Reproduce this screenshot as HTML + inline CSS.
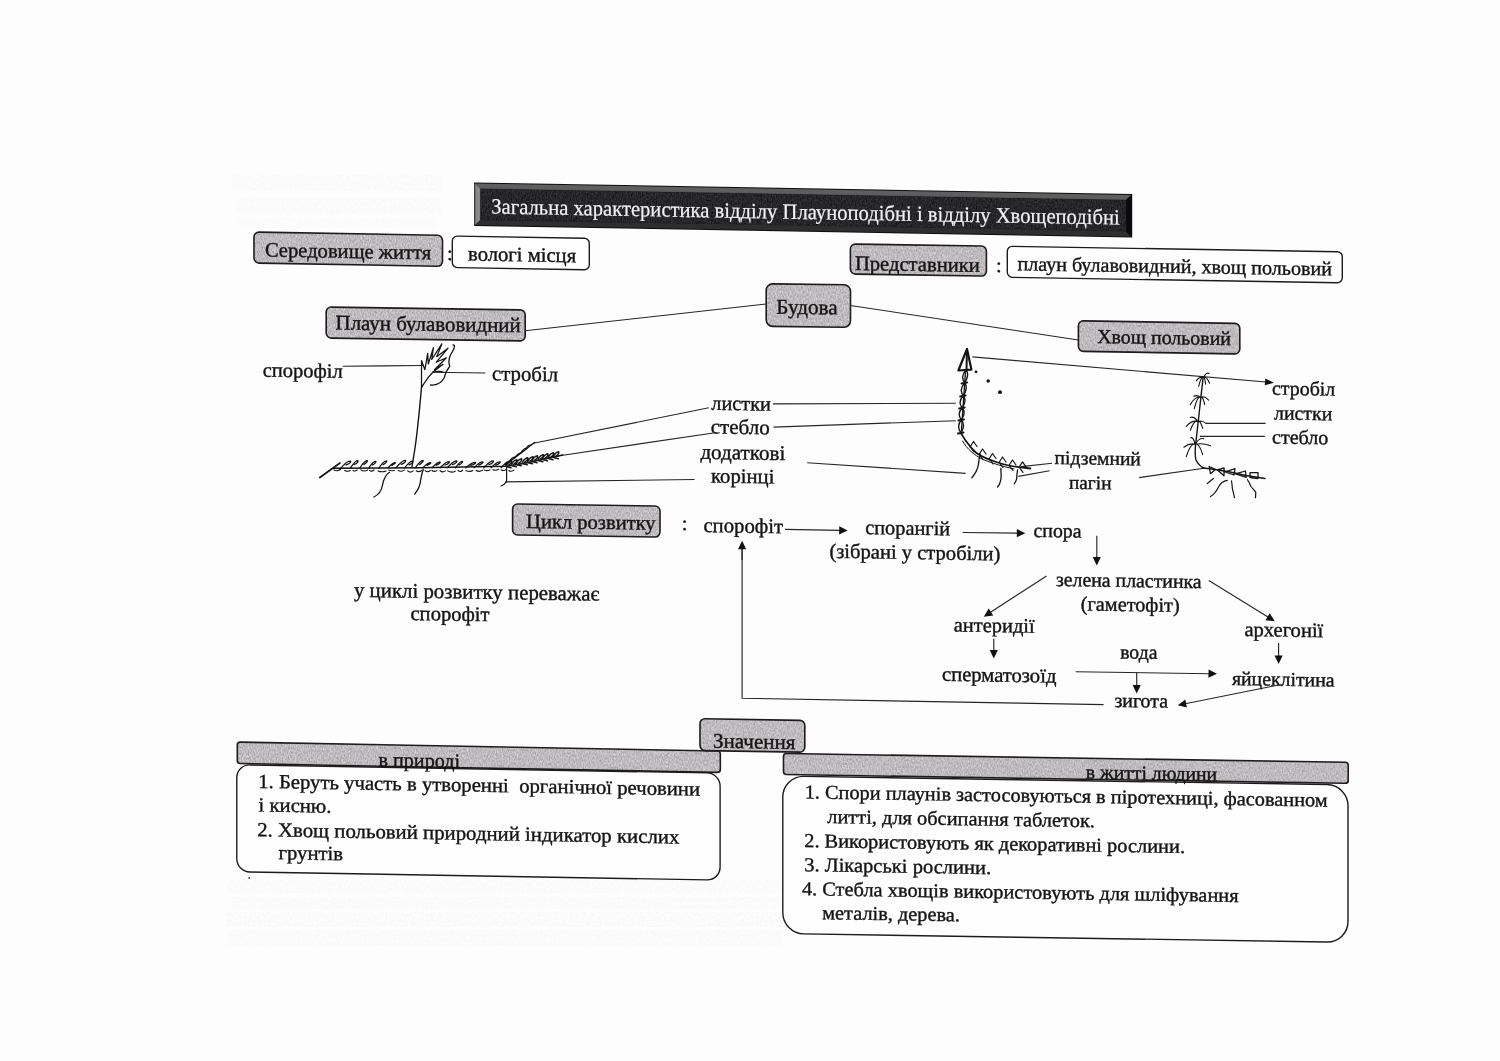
<!DOCTYPE html>
<html><head><meta charset="utf-8">
<style>
html,body{margin:0;padding:0;background:#fdfdfd;width:1500px;height:1061px;overflow:hidden}
svg{display:block;position:absolute;left:0;top:0;will-change:transform}
text{font-family:"Liberation Serif",serif;font-size:20.5px;fill:#141414;stroke:#141414;stroke-width:0.4px}
.w{fill:#f2f2f2;stroke:#f2f2f2;stroke-width:0.2px}
.gf{fill:#b3b1b4}
.gs{fill:none;stroke:#1c1c1c;stroke-width:1.6}
.wb{fill:#fefefe;stroke:#1c1c1c;stroke-width:1.4}
.ln{stroke:#262626;stroke-width:1.15;fill:none}
.dr{stroke:#141414;stroke-width:1.5;fill:none;stroke-linecap:round;stroke-linejoin:round}
.ah{fill:#111}
</style></head>
<body>
<svg width="1500" height="1061" viewBox="0 0 1500 1061">
<defs>
<filter id="tex" x="0" y="0" width="100%" height="100%" color-interpolation-filters="sRGB">
<feTurbulence type="fractalNoise" baseFrequency="0.85 0.45" numOctaves="2" seed="7" result="n"/>
<feColorMatrix in="n" type="matrix" values="0.42 0 0 0 0.54  0.42 0 0 0 0.52  0.42 0 0 0 0.532  0 0 0 0 1" result="g"/>
<feComposite in="g" in2="SourceGraphic" operator="in"/>
</filter>
<filter id="dtex" x="0" y="0" width="100%" height="100%" color-interpolation-filters="sRGB">
<feTurbulence type="fractalNoise" baseFrequency="0.8 0.5" numOctaves="2" seed="3" result="n"/>
<feColorMatrix in="n" type="matrix" values="0.3 0 0 0 0.0  0.3 0 0 0 0.0  0.3 0 0 0 0.015  0 0 0 0 1" result="g"/>
<feComposite in="g" in2="SourceGraphic" operator="in"/>
</filter>
<filter id="gh" x="0" y="0" width="100%" height="100%" color-interpolation-filters="sRGB">
<feTurbulence type="fractalNoise" baseFrequency="0.5 0.35" numOctaves="2" seed="11" result="n"/>
<feColorMatrix in="n" type="matrix" values="0 0 0 0 0  0 0 0 0 0  0 0 0 0 0  0 0 0 -2.2 1.6" result="a"/>
<feComposite in="SourceGraphic" in2="a" operator="in"/>
</filter>
</defs>
<rect x="228" y="880" width="560" height="13" fill="#000" opacity="0.016" filter="url(#gh)"/>
<rect x="232" y="897" width="555" height="12" fill="#000" opacity="0.014" filter="url(#gh)"/>
<rect x="226" y="912" width="560" height="15" fill="#000" opacity="0.018" filter="url(#gh)"/>
<rect x="228" y="930" width="555" height="16" fill="#000" opacity="0.016" filter="url(#gh)"/>
<rect x="232" y="175" width="210" height="16" fill="#000" opacity="0.014" filter="url(#gh)"/>
<rect x="236" y="198" width="205" height="16" fill="#000" opacity="0.014" filter="url(#gh)"/>
<rect x="238" y="218" width="200" height="10" fill="#000" opacity="0.01" filter="url(#gh)"/>
<g transform="translate(474.2 182.5) skewY(1.0) translate(-474.2 -182.5)">
<rect x="474.2" y="182.5" width="658" height="43.5" fill="#0e0e0e"/>
<polygon points="475.2,183.5 1131.2,183.5 1126.0,188.7 480.4,188.7" fill="#5e5e5e"/>
<polygon points="475.2,183.5 480.4,188.7 480.4,219.8 475.2,225.0" fill="#888"/>
<polygon points="475.2,225.0 480.4,219.8 1126.0,219.8 1131.2,225.0" fill="#2e2e2e"/>
<polygon points="1131.2,183.5 1126.0,188.7 1126.0,219.8 1131.2,225.0" fill="#0a0a0a"/>
<rect x="480.4" y="188.7" width="645.6" height="31.1" fill="#262629" filter="url(#dtex)"/>
</g>
<text x="491.2" y="213.6" transform="translate(491.2 213.6) skewY(1.0) scale(1 1.06) translate(-491.2 -213.6)" class="w" style="font-size:20.64px">Загальна характеристика відділу Плауноподібні і відділу Хвощеподібні</text>
<rect x="254" y="232" width="188.5" height="31" rx="5" class="gf" filter="url(#tex)" transform="translate(254 232) skewY(1.0) translate(-254 -232)"/>
<rect x="254" y="232" width="188.5" height="31" rx="5" class="gs" transform="translate(254 232) skewY(1.0) translate(-254 -232)"/>
<text x="264.9" y="256.5" transform="translate(264.9 256.5) skewY(1.0) scale(1 1.0) translate(-264.9 -256.5)" style="font-size:20.58px">Середовище життя</text>
<text x="446.9" y="260" transform="translate(446.9 260) skewY(0.92) scale(1 1.0) translate(-446.9 -260)" style="font-size:20.50px">:</text>
<rect x="452.3" y="236" width="137" height="31.5" rx="5" class="wb" transform="translate(452.3 236) skewY(0.95) translate(-452.3 -236)"/>
<text x="468.1" y="260.5" transform="translate(468.1 260.5) skewY(0.95) scale(1 1.0) translate(-468.1 -260.5)" style="font-size:20.64px">вологі місця</text>
<rect x="850.4" y="244" width="136" height="30" rx="5" class="gf" filter="url(#tex)" transform="translate(850.4 244) skewY(0.9) translate(-850.4 -244)"/>
<rect x="850.4" y="244" width="136" height="30" rx="5" class="gs" transform="translate(850.4 244) skewY(0.9) translate(-850.4 -244)"/>
<text x="854.9" y="270" transform="translate(854.9 270) skewY(0.9) scale(1 1.0) translate(-854.9 -270)" style="font-size:20.61px">Представники</text>
<text x="995.9" y="272" transform="translate(995.9 272) skewY(0.92) scale(1 1.0) translate(-995.9 -272)" style="font-size:20.50px">:</text>
<rect x="1007.3" y="246.3" width="335" height="31" rx="5" class="wb" transform="translate(1007.3 246.3) skewY(0.94) translate(-1007.3 -246.3)"/>
<text x="1017.5" y="270.3" transform="translate(1017.5 270.3) skewY(0.94) scale(1 1.0) translate(-1017.5 -270.3)" style="font-size:20.07px">плаун булавовидний, хвощ польовий</text>
<line x1="525" y1="330.8" x2="766" y2="304" class="ln"/>
<line x1="850.5" y1="305.5" x2="1078.4" y2="340" class="ln"/>
<rect x="326.2" y="307" width="199" height="31" rx="5" class="gf" filter="url(#tex)" transform="translate(326.2 307) skewY(0.86) translate(-326.2 -307)"/>
<rect x="326.2" y="307" width="199" height="31" rx="5" class="gs" transform="translate(326.2 307) skewY(0.86) translate(-326.2 -307)"/>
<text x="335.6" y="329.5" transform="translate(335.6 329.5) skewY(0.86) scale(1 1.0) translate(-335.6 -329.5)" style="font-size:20.92px">Плаун булавовидний</text>
<rect x="766.2" y="283.8" width="84.3" height="42.5" rx="6.5" class="gf" filter="url(#tex)" transform="translate(766.2 283.8) skewY(0.7) translate(-766.2 -283.8)"/>
<rect x="766.2" y="283.8" width="84.3" height="42.5" rx="6.5" class="gs" transform="translate(766.2 283.8) skewY(0.7) translate(-766.2 -283.8)"/>
<text x="776.3" y="313.7" transform="translate(776.3 313.7) skewY(0.7) scale(1 1.0) translate(-776.3 -313.7)" style="font-size:21.19px">Будова</text>
<rect x="1078.4" y="320.8" width="161.4" height="30.5" rx="5" class="gf" filter="url(#tex)" transform="translate(1078.4 320.8) skewY(0.95) translate(-1078.4 -320.8)"/>
<rect x="1078.4" y="320.8" width="161.4" height="30.5" rx="5" class="gs" transform="translate(1078.4 320.8) skewY(0.95) translate(-1078.4 -320.8)"/>
<text x="1097.2" y="343" transform="translate(1097.2 343) skewY(0.95) scale(1 1.0) translate(-1097.2 -343)" style="font-size:19.90px">Хвощ польовий</text>
<text x="262.7" y="376.7" transform="translate(262.7 376.7) skewY(0.92) scale(1 1.0) translate(-262.7 -376.7)" style="font-size:20.49px">спорофіл</text>
<text x="492.0" y="380.3" transform="translate(492.0 380.3) skewY(0.92) scale(1 1.0) translate(-492.0 -380.3)" style="font-size:20.80px">стробіл</text>
<text x="711.3" y="409.8" transform="translate(711.3 409.8) skewY(0.92) scale(1 1.0) translate(-711.3 -409.8)" style="font-size:20.30px">листки</text>
<text x="710.7" y="433.5" transform="translate(710.7 433.5) skewY(0.92) scale(1 1.0) translate(-710.7 -433.5)" style="font-size:21.07px">стебло</text>
<text x="700.4" y="458.8" transform="translate(700.4 458.8) skewY(0.92) scale(1 1.0) translate(-700.4 -458.8)" style="font-size:21.09px">додаткові</text>
<text x="711.1" y="482.5" transform="translate(711.1 482.5) skewY(0.92) scale(1 1.0) translate(-711.1 -482.5)" style="font-size:20.70px">корінці</text>
<text x="1054.6" y="464" transform="translate(1054.6 464) skewY(0.92) scale(1 1.0) translate(-1054.6 -464)" style="font-size:19.56px">підземний</text>
<text x="1069.0" y="488.8" transform="translate(1069.0 488.8) skewY(0.92) scale(1 1.0) translate(-1069.0 -488.8)" style="font-size:19.29px">пагін</text>
<text x="1272.0" y="394.7" transform="translate(1272.0 394.7) skewY(0.92) scale(1 1.0) translate(-1272.0 -394.7)" style="font-size:19.91px">стробіл</text>
<text x="1274.0" y="419.4" transform="translate(1274.0 419.4) skewY(0.92) scale(1 1.0) translate(-1274.0 -419.4)" style="font-size:19.86px">листки</text>
<text x="1272.0" y="443.5" transform="translate(1272.0 443.5) skewY(0.92) scale(1 1.0) translate(-1272.0 -443.5)" style="font-size:20.09px">стебло</text>
<line x1="342.8" y1="366.2" x2="423.5" y2="365.5" class="ln"/>
<line x1="432" y1="372.3" x2="485.4" y2="373" class="ln"/>
<line x1="533.5" y1="443.2" x2="708.8" y2="407.8" class="ln"/>
<line x1="551" y1="457" x2="716.7" y2="432.5" class="ln"/>
<line x1="505" y1="481.9" x2="694.5" y2="479.5" class="ln"/>
<line x1="773" y1="403.9" x2="955.8" y2="403.3" class="ln"/>
<line x1="773.6" y1="427.1" x2="955.8" y2="420.7" class="ln"/>
<line x1="807.2" y1="462.7" x2="965.6" y2="473.4" class="ln"/>
<line x1="1052" y1="463.2" x2="1021.4" y2="466.6" class="ln"/>
<line x1="1049.6" y1="470.8" x2="1018.4" y2="476.4" class="ln"/>
<line x1="1139.2" y1="477.6" x2="1204" y2="468.2" class="ln"/>
<line x1="972.4" y1="356.9" x2="1266.0" y2="382.0" class="ln"/>
<polygon points="1274.0,382.7 1264.8,385.2 1265.3,378.6" class="ah"/>
<line x1="1206" y1="423.4" x2="1265.6" y2="423.4" class="ln"/>
<line x1="1199.8" y1="436.4" x2="1264.9" y2="436.4" class="ln"/>
<rect x="512.6" y="504" width="147.4" height="31" rx="5" class="gf" filter="url(#tex)" transform="translate(512.6 504) skewY(0.8) translate(-512.6 -504)"/>
<rect x="512.6" y="504" width="147.4" height="31" rx="5" class="gs" transform="translate(512.6 504) skewY(0.8) translate(-512.6 -504)"/>
<text x="526.1" y="528" transform="translate(526.1 528) skewY(0.8) scale(1 1.0) translate(-526.1 -528)" style="font-size:20.56px">Цикл розвитку</text>
<text x="681.8" y="530" transform="translate(681.8 530) skewY(0.92) scale(1 1.0) translate(-681.8 -530)" style="font-size:20.50px">:</text>
<text x="703.4" y="532" transform="translate(703.4 532) skewY(0.92) scale(1 1.0) translate(-703.4 -532)" style="font-size:20.76px">спорофіт</text>
<text x="865.2" y="534" transform="translate(865.2 534) skewY(0.92) scale(1 1.0) translate(-865.2 -534)" style="font-size:20.33px">спорангій</text>
<text x="829.4" y="557.8" transform="translate(829.4 557.8) skewY(0.92) scale(1 1.0) translate(-829.4 -557.8)" style="font-size:20.57px">(зібрані у стробіли)</text>
<text x="1033.5" y="536.9" transform="translate(1033.5 536.9) skewY(0.92) scale(1 1.0) translate(-1033.5 -536.9)" style="font-size:19.80px">спора</text>
<text x="1056.0" y="585.9" transform="translate(1056.0 585.9) skewY(0.92) scale(1 1.0) translate(-1056.0 -585.9)" style="font-size:19.81px">зелена пластинка</text>
<text x="1080.8" y="610.4" transform="translate(1080.8 610.4) skewY(0.92) scale(1 1.0) translate(-1080.8 -610.4)" style="font-size:20.25px">(гаметофіт)</text>
<text x="953.8" y="631.5" transform="translate(953.8 631.5) skewY(0.92) scale(1 1.0) translate(-953.8 -631.5)" style="font-size:20.45px">антеридії</text>
<text x="1244.4" y="636" transform="translate(1244.4 636) skewY(0.92) scale(1 1.0) translate(-1244.4 -636)" style="font-size:20.57px">архегонії</text>
<text x="1120.2" y="658.4" transform="translate(1120.2 658.4) skewY(0.92) scale(1 1.0) translate(-1120.2 -658.4)" style="font-size:19.73px">вода</text>
<text x="942.0" y="680.8" transform="translate(942.0 680.8) skewY(0.92) scale(1 1.0) translate(-942.0 -680.8)" style="font-size:20.61px">сперматозоїд</text>
<text x="1231.9" y="685" transform="translate(1231.9 685) skewY(0.92) scale(1 1.0) translate(-1231.9 -685)" style="font-size:19.81px">яйцеклітина</text>
<text x="1114.4" y="706.9" transform="translate(1114.4 706.9) skewY(0.92) scale(1 1.0) translate(-1114.4 -706.9)" style="font-size:19.91px">зигота</text>
<text x="354.0" y="596.8" transform="translate(354.0 596.8) skewY(0.92) scale(1 1.0) translate(-354.0 -596.8)" style="font-size:20.83px">у циклі розвитку переважає</text>
<text x="410.5" y="620" transform="translate(410.5 620) skewY(0.92) scale(1 1.0) translate(-410.5 -620)" style="font-size:20.58px">спорофіт</text>
<line x1="785" y1="529.4" x2="840.2" y2="530.4" class="ln"/>
<polygon points="847.7,530.5 839.1,534.5 839.3,526.3" class="ah"/>
<line x1="962.6" y1="532.5" x2="1017.8" y2="533.1" class="ln"/>
<polygon points="1025.3,533.2 1016.8,537.2 1016.8,529.0" class="ah"/>
<line x1="1096.8" y1="535.8" x2="1096.8" y2="558.0" class="ln"/>
<polygon points="1096.8,565.5 1092.7,557.0 1100.9,557.0" class="ah"/>
<line x1="1046.5" y1="576.1" x2="990.1" y2="612.6" class="ln"/>
<polygon points="983.8,616.7 988.7,608.6 993.2,615.5" class="ah"/>
<line x1="1208.8" y1="580.4" x2="1268.4" y2="617.3" class="ln"/>
<polygon points="1274.8,621.2 1265.4,620.2 1269.7,613.2" class="ah"/>
<line x1="993.8" y1="638.8" x2="993.8" y2="650.9" class="ln"/>
<polygon points="993.8,658.4 989.7,649.9 997.9,649.9" class="ah"/>
<line x1="1278.6" y1="643" x2="1278.6" y2="656.5" class="ln"/>
<polygon points="1278.6,664.0 1274.5,655.5 1282.7,655.5" class="ah"/>
<line x1="1075.6" y1="671.8" x2="1209.5" y2="673.7" class="ln"/>
<polygon points="1217.0,673.8 1208.4,677.8 1208.6,669.6" class="ah"/>
<line x1="1136.7" y1="672.4" x2="1136.7" y2="685.9" class="ln"/>
<polygon points="1136.7,693.4 1132.6,684.9 1140.8,684.9" class="ah"/>
<line x1="1278.6" y1="685" x2="1185.2" y2="703.7" class="ln"/>
<polygon points="1177.8,705.2 1185.3,699.5 1186.9,707.5" class="ah"/>
<polyline points="1103.6,704.6 742.1,698.3 742.1,549" class="ln"/>
<line x1="742.1" y1="560" x2="742.1" y2="548.2" class="ln"/>
<polygon points="742.1,540.7 746.2,549.2 738.0,549.2" class="ah"/>
<rect x="237.3" y="742.1" width="483" height="21.4" rx="3" class="gf" filter="url(#tex)" transform="translate(237.3 742.1) skewY(1.06) translate(-237.3 -742.1)"/>
<rect x="237.3" y="742.1" width="483" height="21.4" rx="3" class="gs" transform="translate(237.3 742.1) skewY(1.06) translate(-237.3 -742.1)"/>
<rect x="236.8" y="764.7" width="483.3" height="107" rx="13" class="wb" transform="translate(236.8 764.7) skewY(1.0) translate(-236.8 -764.7)"/>
<text x="378.5" y="766.3" transform="translate(378.5 766.3) skewY(1.05) scale(1 1.0) translate(-378.5 -766.3)" style="font-size:20.14px">в природі</text>
<text x="258.2" y="787.9" transform="translate(258.2 787.9) skewY(1.0) scale(1 0.97) translate(-258.2 -787.9)" style="font-size:20.73px">1. Беруть участь в утворенні&#160; органічної речовини</text>
<text x="258.6" y="811.5" transform="translate(258.6 811.5) skewY(1.0) scale(1 0.97) translate(-258.6 -811.5)" style="font-size:20.70px">і кисню.</text>
<text x="257.2" y="836.2" transform="translate(257.2 836.2) skewY(1.0) scale(1 0.97) translate(-257.2 -836.2)" style="font-size:20.80px">2. Хвощ польовий природний індикатор кислих</text>
<text x="278.5" y="859.2" transform="translate(278.5 859.2) skewY(1.0) scale(1 0.97) translate(-278.5 -859.2)" style="font-size:20.70px">грунтів</text>
<rect x="783.5" y="753.5" width="564.7" height="21" rx="3" class="gf" filter="url(#tex)" transform="translate(783.5 753.5) skewY(0.9) translate(-783.5 -753.5)"/>
<rect x="783.5" y="753.5" width="564.7" height="21" rx="3" class="gs" transform="translate(783.5 753.5) skewY(0.9) translate(-783.5 -753.5)"/>
<rect x="782.8" y="776" width="565.2" height="157.5" rx="21" class="wb" transform="translate(782.8 776) skewY(0.9) translate(-782.8 -776)"/>
<text x="1085.8" y="778.6" transform="translate(1085.8 778.6) skewY(0.9) scale(1 1.0) translate(-1085.8 -778.6)" style="font-size:19.73px">в житті людини</text>
<text x="804.7" y="798.4" transform="translate(804.7 798.4) skewY(0.9) scale(1 0.97) translate(-804.7 -798.4)" style="font-size:20.33px">1. Спори плаунів застосовуються в піротехниці, фасованном</text>
<text x="827.3" y="823.1" transform="translate(827.3 823.1) skewY(0.9) scale(1 0.97) translate(-827.3 -823.1)" style="font-size:20.40px">литті, для обсипання таблеток.</text>
<text x="804.2" y="847.1" transform="translate(804.2 847.1) skewY(0.9) scale(1 0.97) translate(-804.2 -847.1)" style="font-size:20.40px">2. Використовують як декоративні рослини.</text>
<text x="804.2" y="871.2" transform="translate(804.2 871.2) skewY(0.9) scale(1 0.97) translate(-804.2 -871.2)" style="font-size:20.53px">3. Лікарські рослини.</text>
<text x="801.9" y="895.2" transform="translate(801.9 895.2) skewY(0.9) scale(1 0.97) translate(-801.9 -895.2)" style="font-size:20.39px">4. Стебла хвощів використовують для шліфування</text>
<text x="822.2" y="919.2" transform="translate(822.2 919.2) skewY(0.9) scale(1 0.97) translate(-822.2 -919.2)" style="font-size:20.34px">металів, дерева.</text>
<rect x="700" y="718.7" width="104.8" height="31.8" rx="5" class="gf" filter="url(#tex)" transform="translate(700 718.7) skewY(0.95) translate(-700 -718.7)"/>
<rect x="700" y="718.7" width="104.8" height="31.8" rx="5" class="gs" transform="translate(700 718.7) skewY(0.95) translate(-700 -718.7)"/>
<text x="713.0" y="747.7" transform="translate(713.0 747.7) skewY(0.95) scale(1 1.0) translate(-713.0 -747.7)" style="font-size:21.08px">Значення</text>
<circle cx="249.2" cy="877.9" r="0.9" fill="#333"/>
<path d="M421.5,387.5 C419.5,410 417,435 414.7,450 L412,466.5" class="dr" style="stroke-width:1.4"/>
<path d="M421.5,387.5 L421.5,360.5 L424.9,369.7 L427.7,353.3 L428.3,364 L433.4,347.6 L431.7,359.5 L441.8,343.9 L436.7,356.7 L448,348.2 L436.2,362.3 L446.4,357.8 L434.5,369.7 L443,364.3 L433,372 C428,377 424.5,382.5 421.5,387.7" class="dr" style="stroke-width:1.25"/>
<path d="M433,372.5 C436,371 441,371 443,372" class="dr" style="stroke-width:1.3"/>
<path d="M430.5,385 C438,386 444,381 445.2,374.7 C446,370 449.5,367.5 449.7,366.3 C448.5,363 448.6,360 450,356 C452.5,351 455.5,348 454.3,345.3 L453,344.8" class="dr" style="stroke-width:1.3"/>
<path d="M319.8,477.5 L340,463" class="dr" style="stroke-width:1.7"/>
<path d="M333,468.2 L420,467.8 L505,466.3 C520,465 540,460 562.6,455" class="dr" style="stroke-width:1.5"/>
<path d="M341.0,467.8 c2.8,-2.6 5.5,-6.6 9.2,-6.6 c1.3,0 -0.1,2.6 -4.2,3.6 M350.6,467.8 c2.1,-2.9 4.3,-7.3 7.1,-7.3 c1.0,0 -0.1,2.9 -3.2,4.0 M359.9,467.8 c2.2,-2.9 4.4,-7.3 7.3,-7.3 c1.0,0 -1.1,2.9 -3.3,4.0 M368.8,467.8 c2.1,-2.6 4.2,-6.4 7.0,-6.4 c0.7,0 -1.1,2.6 -3.2,3.5 M379.0,467.8 c2.2,-2.8 4.5,-6.9 7.5,-6.9 c1.3,0 -1.3,2.8 -3.4,3.8 M388.1,467.8 c2.1,-2.1 4.2,-5.3 7.0,-5.3 c1.4,0 -1.2,2.1 -3.2,2.9 M395.9,467.8 c2.9,-3.0 5.8,-7.5 9.6,-7.5 c0.8,0 -0.1,3.0 -4.3,4.1 M404.8,467.8 c2.3,-2.7 4.6,-6.7 7.6,-6.7 c1.4,0 -0.5,2.7 -3.4,3.7 M415.2,467.8 c2.4,-2.9 4.7,-7.2 7.9,-7.2 c0.9,0 -1.3,2.9 -3.6,4.0 M422.7,467.8 c2.4,-2.1 4.7,-5.2 7.9,-5.2 c1.1,0 -1.5,2.1 -3.6,2.8 M432.0,467.8 c2.4,-2.3 4.8,-5.8 7.9,-5.8 c1.3,0 -0.8,2.3 -3.6,3.2 M440.1,467.8 c2.7,-2.5 5.5,-6.2 9.1,-6.2 c0.6,0 -0.0,2.5 -4.1,3.4 M447.2,467.8 c2.9,-2.7 5.7,-6.9 9.5,-6.9 c0.5,0 -0.3,2.7 -4.3,3.8 M455.5,467.8 c2.1,-2.6 4.2,-6.4 7.0,-6.4 c0.5,0 -1.2,2.6 -3.2,3.5 M465.8,467.8 c2.8,-2.2 5.6,-5.5 9.3,-5.5 c1.4,0 -0.1,2.2 -4.2,3.0 M474.1,467.8 c2.6,-2.4 5.1,-5.9 8.6,-5.9 c1.3,0 -1.3,2.4 -3.9,3.2 M483.7,467.8 c2.9,-2.8 5.7,-7.0 9.6,-7.0 c0.5,0 -0.1,2.8 -4.3,3.8 M491.0,467.8 c2.6,-2.3 5.3,-5.9 8.8,-5.9 c1.4,0 -1.0,2.3 -4.0,3.2 M501.2,467.8 c2.4,-2.5 4.8,-6.4 7.9,-6.4 c0.8,0 -1.2,2.5 -3.6,3.5 " class="dr" style="stroke-width:1.25"/>
<path d="M334.0,469.9 c2.0,1.6 4.7,0.7 6.8,-0.7 M344.7,470.4 c1.7,0.8 3.9,1.2 5.6,0.1 M353.0,470.3 c1.3,1.5 3.0,0.5 4.2,-0.3 M360.8,469.9 c2.1,1.5 4.8,1.2 6.9,0.1 M369.5,470.3 c1.4,1.4 3.2,0.8 4.6,-0.3 M378.1,470.9 c2.4,1.0 5.5,1.0 7.9,0.0 M388.7,470.1 c1.7,0.7 3.9,0.9 5.6,0.3 M398.2,470.6 c1.8,0.9 4.2,0.6 6.0,-0.5 M407.7,470.9 c1.6,1.4 3.8,1.4 5.4,-0.0 M416.3,470.8 c1.6,1.3 3.8,0.8 5.5,-0.3 M425.1,470.7 c1.6,1.5 3.6,1.2 5.2,-0.2 M431.9,470.5 c1.5,1.2 3.5,1.0 5.0,0.1 M440.0,470.8 c1.6,1.2 3.8,1.3 5.4,0.1 M447.7,470.9 c2.2,1.3 5.2,1.6 7.5,0.3 M458.0,470.4 c1.4,1.4 3.3,1.5 4.7,-0.3 M465.9,470.7 c2.1,0.7 4.8,1.4 6.9,-0.2 M476.0,470.3 c1.9,1.4 4.5,1.2 6.5,-0.0 M484.1,469.9 c1.7,1.2 4.0,0.7 5.8,-0.0 M492.9,469.8 c1.8,0.7 4.1,0.6 5.9,-0.7 M501.1,470.0 c1.4,0.5 3.3,1.0 4.8,-0.4 M508.9,470.5 c1.5,1.5 3.5,0.5 5.0,-0.4 " class="dr" style="stroke-width:1.1"/>
<path d="M506.0,466.2 c1,-3 3,-5 5.5,-5.5 c0.5,1 -1,3 -3,4.5 M507.0,466.7 l4,1 M511.3,465.2 c1,-3 3,-5 5.5,-5.5 c0.5,1 -1,3 -3,4.5 M512.3,465.7 l4,1 M516.1,464.3 c1,-3 3,-5 5.5,-5.5 c0.5,1 -1,3 -3,4.5 M517.1,464.8 l4,1 M522.2,463.2 c1,-3 3,-5 5.5,-5.5 c0.5,1 -1,3 -3,4.5 M523.2,463.7 l4,1 M527.5,462.2 c1,-3 3,-5 5.5,-5.5 c0.5,1 -1,3 -3,4.5 M528.5,462.7 l4,1 M532.0,461.3 c1,-3 3,-5 5.5,-5.5 c0.5,1 -1,3 -3,4.5 M533.0,461.8 l4,1 M537.8,460.2 c1,-3 3,-5 5.5,-5.5 c0.5,1 -1,3 -3,4.5 M538.8,460.7 l4,1 M542.4,459.3 c1,-3 3,-5 5.5,-5.5 c0.5,1 -1,3 -3,4.5 M543.4,459.8 l4,1 M548.0,458.3 c1,-3 3,-5 5.5,-5.5 c0.5,1 -1,3 -3,4.5 M549.0,458.8 l4,1 M553.2,457.3 c1,-3 3,-5 5.5,-5.5 c0.5,1 -1,3 -3,4.5 M554.2,457.8 l4,1 " class="dr" style="stroke-width:1.5"/>
<path d="M505,464.5 C512,460 522,452 534.6,442.5" class="dr" style="stroke-width:1.5"/>
<path d="M515,458 c1,-3 4,-5 6,-5 M521,453 c1,-3 4,-5 6,-5 M526,449 c1,-3 3,-4 5,-4 M509,462 c1,-3 4,-5 6,-5" class="dr" style="stroke-width:1.1"/>
<path d="M389.5,472.3 C385,475 383.5,480 382.5,485 C381.5,491 378,495 373.9,497" class="dr" style="stroke-width:1.3"/>
<path d="M423.3,469.3 C421.5,474 421,478 420.3,482.3 C419.5,488 417,491 414.7,494" class="dr" style="stroke-width:1.3"/>
<path d="M506.6,467.7 L506.6,481.7 C505,484 503,485.5 501,486" class="dr" style="stroke-width:1.2"/>
<path d="M967,349 L958.4,370.5 L971.4,369.6 Z" class="dr" style="stroke-width:2.2"/>
<path d="M967,349 L966.5,370" class="dr" style="stroke-width:2.0"/>
<path d="M966,370 C962.4,373.9 961.4,378.4 964.6,383 M966,370 C969.4,373.9 967.4,378.4 964.6,383 M964.6,383 C961.0,386.9 960.0,391.4 963.2,396 M964.6,383 C968.0,386.9 966.0,391.4 963.2,396 M963.2,396 C959.6,399.6 959.0,403.8 962.2,408 M963.2,396 C966.6,399.6 965.0,403.8 962.2,408 M962.2,408 C958.6,411.6 958.1999999999999,415.8 961.4,420 M962.2,408 C965.6,411.6 964.1999999999999,415.8 961.4,420 M961.4,420 C957.8,423.9 957.8,428.4 961,433 M961.4,420 C964.8,423.9 963.8,428.4 961,433 " class="dr" style="stroke-width:1.35"/>
<path d="M965.5,371 L961.2,433.6" class="dr" style="stroke-width:1.3"/>
<path d="M961.6,383.5 L967.1,382.5 M960.2,396.5 L965.7,395.5 M959.2,408.5 L964.7,407.5 M958.4,420.5 L963.9,419.5 M958,433.5 L963.5,432.5 " class="dr" style="stroke-width:2.0"/>
<path d="M961.2,433.6 C965,440 970,447 976.4,453 C983,457.5 990,460 996.2,462 C1004,464.5 1012,466.5 1019.3,467.2 L1030.5,468.5" class="dr" style="stroke-width:1.8"/>
<path d="M962.5,441 C967,449 974,455 983,459.5 C993,463.5 1003,466.5 1014,469" class="dr" style="stroke-width:1.0"/>
<path d="M970,447 L973.5,441.5 L977,446.5 M971,448 L974,452 M979,454.5 L982.5,449.0 L986,454.0 M980,455.5 L983,459.5 M989,459 L992.5,453.5 L996,458.5 M990,460 L993,464 M999,462.5 L1002.5,457.0 L1006,462.0 M1000,463.5 L1003,467.5 M1009,465.5 L1012.5,460.0 L1016,465.0 M1010,466.5 L1013,470.5 M1019,467.4 L1022.5,461.9 L1026,466.9 M1020,468.4 L1023,472.4 " class="dr" style="stroke-width:1.2"/>
<path d="M980.3,454 C979,458 978.7,462 978.4,464.6 C977.5,470 975,474 971.8,477.8" class="dr" style="stroke-width:1.3"/>
<path d="M1000.8,468.5 C1001,472 1001.3,475 1001.1,477.8 C1000.5,482 999.5,485 997.5,487" class="dr" style="stroke-width:1.3"/>
<path d="M1017.6,469.9 C1017,473 1016.8,476 1016.6,479.1 C1016,481 1015.5,482.5 1014.3,483.7" class="dr" style="stroke-width:1.3"/>
<circle cx="976" cy="371.8" r="1.4" fill="#111"/><circle cx="988.2" cy="381" r="1.7" fill="#111"/><circle cx="1000" cy="392.2" r="1.9" fill="#111"/>
<path d="M1203.2,376.9 C1200.5,400 1198,425 1195.5,445 C1195,452 1195,457 1196,460 C1198,464 1200.5,466.5 1203.7,468" class="dr" style="stroke-width:1.4"/>
<path d="M1203.5,377.5 Q1201.1,376.0 1198.7,386.3 M1203.5,377.5 Q1199.8,376.0 1196.2,380.8 M1203.5,377.5 Q1206.5,376.0 1209.6,383.3 M1203.5,377.5 Q1204.5,376.0 1205.6,384.3 M1203.5,377.5 Q1206.3,371.9 1209.1,373.4 M1200.7,397.2 Q1195.5,395.7 1190.3,404.6 M1200.7,397.2 Q1197.5,395.7 1194.3,408.6 M1200.7,397.2 Q1204.7,395.7 1208.6,400.1 M1200.7,397.2 Q1202.7,395.7 1204.7,404.6 M1200.7,397.2 Q1197.2,394.7 1193.8,396.2 M1197.7,421.4 Q1192.0,419.9 1186.3,426.4 M1197.7,421.4 Q1194.0,419.9 1190.3,430.3 M1197.7,421.4 Q1194.0,416.0 1190.3,417.5 M1197.7,421.4 Q1201.9,419.9 1206.1,423.4 M1197.7,421.4 Q1200.2,419.9 1202.7,428.4 M1195.2,444.2 Q1189.6,442.7 1183.9,447.2 M1195.2,444.2 Q1190.8,442.7 1186.3,456.6 M1195.2,444.2 Q1193.0,436.3 1190.8,437.8 M1195.2,444.2 Q1202.9,442.7 1210.6,445.7 M1195.2,444.2 Q1199.0,442.7 1202.7,454.6 M1195.2,444.2 Q1199.5,437.3 1203.7,438.8 " class="dr" style="stroke-width:1.1"/>
<path d="M1203.5,468.1 L1215,469.5 L1230,472 L1246,475.5 L1264.9,478.5" class="dr" style="stroke-width:1.5"/>
<path d="M1209.1,466.5 L1210.5,473.7 L1215.3,469.4 Z M1217.4,469.9 L1224.1,468 L1224,475.8 Z M1225,472 L1235,468.6 L1234,475 Z M1235.5,473.9 L1245.4,471 L1246.2,477.4 Z M1250,472.6 L1258,472.6 L1258,478.5 L1250,477.5 Z" class="dr" style="stroke-width:1.3"/>
<path d="M1213.4,478.5 L1207.3,483.5" class="dr" style="stroke-width:1.2"/>
<path d="M1227.3,480.3 C1223,481 1220,483.8 1218.5,487 C1217,490 1215,494 1210.5,496.6" class="dr" style="stroke-width:1.2"/>
<path d="M1231.5,480.9 C1231.8,483 1232.3,486 1232.3,488 C1233,492 1234,495 1234.5,497.7" class="dr" style="stroke-width:1.2"/>
<path d="M1247.3,479.5 C1249,482 1250,484 1251,486.5 C1253,489 1255,491 1255.8,492.3 L1255.5,497.7" class="dr" style="stroke-width:1.2"/>
</svg>
</body></html>
